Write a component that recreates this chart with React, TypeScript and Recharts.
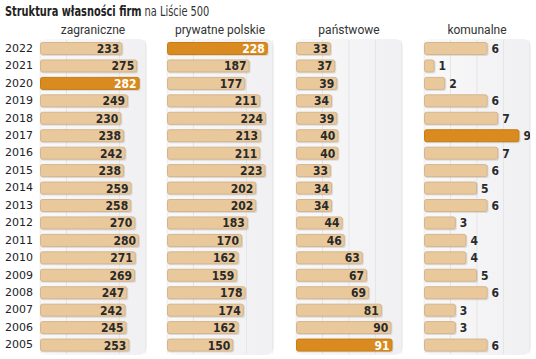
import { BarChart, Bar, XAxis, YAxis, CartesianGrid } from 'recharts';

const years = ['2022', '2021', '2020', '2019', '2018', '2017', '2016', '2015', '2014', '2013', '2012', '2011', '2010', '2009', '2008', '2007', '2006', '2005'];
const zagraniczne = [233, 275, 282, 249, 230, 238, 242, 238, 259, 258, 270, 280, 271, 269, 247, 242, 245, 253];
const prywatne = [228, 187, 177, 211, 224, 213, 211, 223, 202, 202, 183, 170, 162, 159, 178, 174, 162, 150];
const panstwowe = [33, 37, 39, 34, 39, 40, 40, 33, 34, 34, 44, 46, 63, 67, 69, 81, 90, 91];
const komunalne = [6, 1, 2, 6, 7, 9, 7, 6, 5, 6, 3, 4, 4, 5, 6, 3, 3, 6];

const condensed = '"Liberation Sans Narrow", "DejaVu Sans Condensed", "Roboto Condensed", Roboto, sans-serif';
const PLOT_TOP = 40;
const PLOT_BOTTOM = 354;
const CHART_H = 359;

interface PanelProps {
    title: string;
    values: number[];
    max: number;
    grid: number[];
    left: number;
    width: number;
    outside?: boolean;
}

const Panel: React.FC<PanelProps> = ({ title, values, max, grid, left, width, outside }) => {
    const data = years.map((year, i) => ({ year, value: values[i] }));
    const top = Math.max(...values);

    const renderBar = (props: any) => {
        const { x, y, width: w, height: h, payload } = props;
        const hi = payload.value === top;
        const fill = hi ? '#d98b1f' : '#e9c99c';
        const stroke = hi ? '#c77c15' : '#d4b58e';
        return (
            <g>
                <rect x={x + 1} y={y + 1} width={w} height={h} rx={2} fill='rgba(0,0,0,0.10)' />
                <rect x={x + 0.5} y={y + 0.5} width={Math.max(w - 1, 1)} height={h - 1} rx={2} fill={fill} stroke={stroke} />
                <text
                    x={outside ? x + w + 4 : x + w - 3}
                    y={y + h / 2 + 0.5}
                    textAnchor={outside ? 'start' : 'end'}
                    dominantBaseline='central'
                    fontFamily={condensed}
                    fontWeight='bold'
                    fontSize={12}
                    fill={hi && !outside ? '#ffffff' : '#2a2a2a'}
                >
                    {payload.value}
                </text>
            </g>
        );
    };

    return (
        <div style={{ position: 'absolute', left, top: 0, width, height: CHART_H }}>
            <div
                style={{
                    position: 'absolute',
                    left: -1,
                    top: PLOT_TOP - 1,
                    width: width + 2,
                    height: PLOT_BOTTOM - PLOT_TOP + 2,
                    borderRadius: 8,
                    background: 'linear-gradient(to right, #f9f9fa, #f0f0f2)',
                }}
            />
            <div
                style={{
                    position: 'absolute',
                    left: -20,
                    width: width + 40,
                    top: 23,
                    textAlign: 'center',
                    fontFamily: 'Roboto, "Noto Sans", sans-serif',
                    fontSize: 12,
                    color: '#333',
                }}
            >
                {title}
            </div>
            <div style={{ position: 'absolute', left: 0, top: 0 }}>
                <BarChart
                    width={width}
                    height={CHART_H}
                    data={data}
                    layout='vertical'
                    margin={{ top: PLOT_TOP, right: 0, bottom: CHART_H - PLOT_BOTTOM, left: 0 }}
                    barCategoryGap={4}
                >
                    <CartesianGrid horizontal={false} vertical stroke='#e5e5e8' />
                    <XAxis type='number' domain={[0, max]} ticks={grid} hide />
                    <YAxis type='category' dataKey='year' hide />
                    <Bar dataKey='value' barSize={13} shape={renderBar} isAnimationActive={false} />
                </BarChart>
            </div>
        </div>
    );
};

const App: React.FC = () => {
    const rowH = (PLOT_BOTTOM - PLOT_TOP) / years.length;
    return (
        <div style={{ position: 'absolute', left: 0, top: 0, width: 536, height: 359, background: '#fff', overflow: 'hidden' }}>
            <div
                style={{
                    position: 'absolute',
                    left: 5,
                    top: 3,
                    fontFamily: condensed,
                    fontSize: 14,
                    color: '#222',
                    whiteSpace: 'nowrap',
                    transform: 'scaleX(0.78)',
                    transformOrigin: 'left top',
                }}
            >
                <span style={{ fontWeight: 'bold' }}>Struktura własności firm</span>
                <span style={{ color: '#333' }}> na Liście 500</span>
            </div>
            {years.map((year, i) => (
                <div
                    key={year}
                    style={{
                        position: 'absolute',
                        left: 5,
                        top: PLOT_TOP + rowH * i + rowH / 2 - 8,
                        height: 16,
                        lineHeight: '16px',
                        fontFamily: '"DejaVu Sans", sans-serif',
                        fontSize: 11,
                        color: '#222',
                    }}
                >
                    {year}
                </div>
            ))}
            <Panel title='zagraniczne' values={zagraniczne} max={300} grid={[75, 150, 225]} left={40} width={106} />
            <Panel title='prywatne polskie' values={prywatne} max={240} grid={[60, 120, 180]} left={167} width={106} />
            <Panel title='państwowe' values={panstwowe} max={100} grid={[25, 50, 75]} left={296} width={106} />
            <Panel title='komunalne' values={komunalne} max={10} grid={[2.5, 5, 7.5]} left={424} width={106} outside />
        </div>
    );
};

export default App;
